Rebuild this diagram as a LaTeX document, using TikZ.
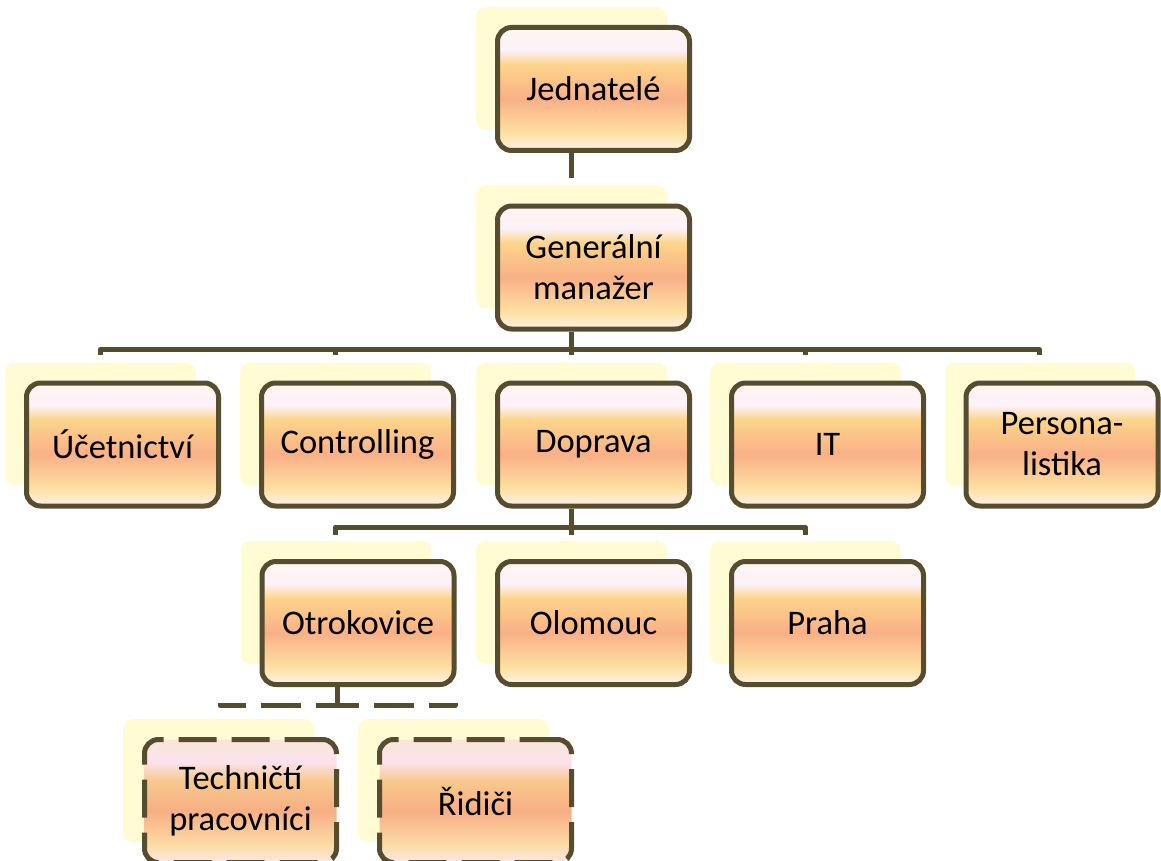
\documentclass[tikz,border=0pt]{standalone}
\usepackage{fontspec}
\setmainfont{Carlito}
\usetikzlibrary{backgrounds,calc}
\definecolor{lineC}{RGB}{86,76,48}
\definecolor{shadowC}{RGB}{255,252,212}
\definecolor{gA}{RGB}{255,241,236}
\definecolor{gB}{RGB}{253,224,162}
\definecolor{gC}{RGB}{249,176,135}
\definecolor{gD}{RGB}{252,212,138}
\definecolor{gE}{RGB}{252,242,250}
\definecolor{gF}{RGB}{255,245,240}
\definecolor{hA}{RGB}{252,232,232}
\definecolor{hB}{RGB}{251,220,165}
\definecolor{hC}{RGB}{247,174,132}
\definecolor{hD}{RGB}{247,200,140}
\definecolor{hE}{RGB}{252,226,238}
\definecolor{hF}{RGB}{249,230,216}
\pgfdeclareverticalshading{boxshade}{100bp}{color(0bp)=(gA); color(25bp)=(gA); color(32bp)=(gB); color(46bp)=(gC); color(60bp)=(gD); color(66bp)=(gE); color(75bp)=(gF); color(100bp)=(gF)}
\pgfdeclareverticalshading{dashshade}{100bp}{color(0bp)=(hA); color(25bp)=(hA); color(32bp)=(hB); color(46bp)=(hC); color(58bp)=(hD); color(66bp)=(hE); color(75bp)=(hF); color(100bp)=(hF)}
\tikzset{
  box/.style={draw=lineC, line width=5pt, rounded corners=14pt, shade, shading=boxshade,
    minimum width=192pt, minimum height=123pt, inner sep=0pt, align=center,
    font=\fontsize{34.5}{41}\selectfont},
  dashbox/.style={shading=dashshade, dash pattern=on 38pt off 15pt},
  conn/.style={draw=lineC, line width=5pt, line join=round},
  dashconn/.style={conn, dash pattern=on 40pt off 15pt},
  shadowbox/.style={fill=shadowC, rounded corners=10pt}
}
\begin{document}
\begin{tikzpicture}[x=1pt, y=-1pt]
\useasboundingbox (0,0) rectangle (1161,861);
\node[box] (jed) at (593.5,89) {Jednatelé};
\node[box] (gm) at (593.5,267.5) {Generální\\manažer};
\node[box] (uc) at (122.5,444.5) {Účetnictví};
\node[box] (co) at (357.5,444.5) {Controlling};
\node[box] (dop) at (593.5,444.5) {Doprava};
\node[box] (it) at (827.5,444.5) {IT};
\node[box] (per) at (1062,444.5) {Persona-\\listika};
\node[box] (otr) at (358,623) {Otrokovice};
\node[box] (olo) at (593.5,623) {Olomouc};
\node[box] (pra) at (827.5,623) {Praha};
\node[box,dashbox] (tech) at (240.5,801) {Techničtí\\pracovníci};
\node[box,dashbox] (rid) at (475.5,801) {Řidiči};
\begin{pgfonlayer}{background}
\foreach \n in {jed,gm,uc,co,dop,it,per,otr,olo,pra,tech,rid}
  \path[shadowbox] ($(\n.north west)+(-19,-18)$) rectangle ($(\n.south east)+(-25,-23)$);
\end{pgfonlayer}
\draw[conn] ([xshift=-22.5pt]jed.south) -- ($([xshift=-22.5pt]gm.north)+(0,-25)$);
\foreach \c in {uc,co,dop,it,per}
  \draw[conn] ([xshift=-22.5pt]gm.south) -- ++(0,18) -| ($([xshift=-22.5pt]\c.north)+(0,-26)$);
\foreach \c in {otr,olo,pra}
  \draw[conn] ([xshift=-22.5pt]dop.south) -- ++(0,18.5) -| ($([xshift=-22.5pt]\c.north)+(0,-24.5)$);
\foreach \c in {tech,rid}
  \draw[dashconn] ([xshift=-20.5pt]otr.south) -- ++(0,18.5) -| ($([xshift=-20.5pt]\c.north)+(0,-34.5)$);
\end{tikzpicture}
\end{document}
